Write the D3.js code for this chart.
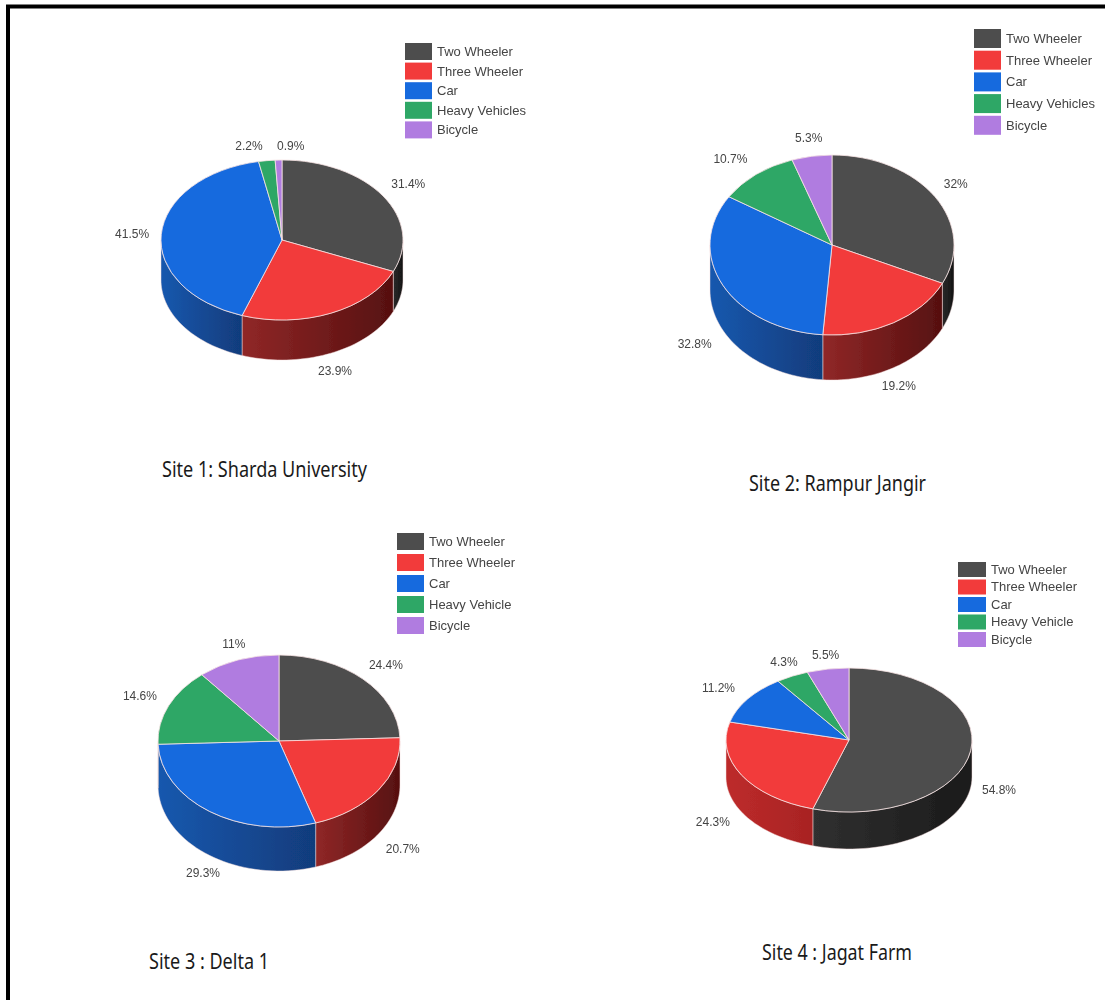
<!DOCTYPE html>
<html>
<head>
<meta charset="utf-8">
<script src="https://cdnjs.cloudflare.com/ajax/libs/d3/7.8.5/d3.min.js"></script>
<style>
  html, body { margin: 0; padding: 0; background: #fff; }
  svg { display: block; }
  .pct { font-family: "Liberation Sans", Arial, sans-serif; font-size: 12px; fill: #444; text-anchor: middle; dominant-baseline: middle; }
  .leg { font-family: "Liberation Sans", Arial, sans-serif; font-size: 13px; fill: #444; dominant-baseline: middle; }
  .site { font-family: "Noto Sans", sans-serif; font-size: 22px; fill: #1a1a1a; }
</style>
</head>
<body>
<svg id="chart" width="1105" height="1000"></svg>
<script>
// vehicle composition, percent
const categories = ['Two Wheeler', 'Three Wheeler', 'Car', 'Heavy Vehicles', 'Bicycle'];
const categoriesSite3 = ['Two Wheeler', 'Three Wheeler', 'Car', 'Heavy Vehicle', 'Bicycle'];
const site1Values = [31.4, 23.9, 41.5, 2.2, 0.9];
const site2Values = [32, 19.2, 32.8, 10.7, 5.3];
const site3Values = [24.4, 20.7, 29.3, 14.6, 11];
const site4Values = [54.8, 24.3, 11.2, 4.3, 5.5];
const siteTitles = ['Site 1: Sharda University', 'Site 2: Rampur Jangir', 'Site 3 : Delta 1', 'Site 4 : Jagat Farm'];

const topColors = ['#4d4d4d', '#f23a3a', '#186ade', '#2fa766', '#b07ce0'];
const wallColors = [['#2a2a2a', '#141414'], ['#902727', '#561010'], ['#1758ae', '#113c7c'], ['#1f7044', '#155030'], ['#7a50a0', '#5c3a7c']];
const wallColorsFlat = [['#303030', '#1a1a1a'], ['#bd2b2b', '#a82323'], ['#1758ae', '#113c7c'], ['#1f7044', '#155030'], ['#7a50a0', '#5c3a7c']];

// placement of each pie, nudge = small label shift off the computed ring position
const layouts = [
  { values: site1Values, labels: categories, cx: 282, cy: 240, rx: 121, ry: 80, depth: 40, walls: wallColors, blur: 'soft',
    legX: 405, legY: 43, legW: 27, legH: 17, legStep: 19.6,
    titleX: 162, titleY: 477, titleW: 205,
    nudge: [[0, 0], [-8, 0], [1, 2], [-14, 6], [13, 7]] },
  { values: site2Values, labels: categories, cx: 832, cy: 245, rx: 122, ry: 90, depth: 45, walls: wallColors, blur: 'soft',
    legX: 974, legY: 29, legW: 27, legH: 19, legStep: 21.7,
    titleX: 749, titleY: 491, titleW: 177,
    nudge: [[-5, 0], [-10, 0], [-1, 4], [-7, 3], [2, 5]] },
  { values: site3Values, labels: categoriesSite3, cx: 279, cy: 741, rx: 121, ry: 86, depth: 44, walls: wallColors, blur: 'soft',
    legX: 397, legY: 533, legW: 27, legH: 17, legStep: 21,
    titleX: 149, titleY: 969, titleW: 120,
    nudge: [[2, 2], [0, 3], [11, 1], [-1, 0], [6, 5]] },
  { values: site4Values, labels: categoriesSite3, cx: 849, cy: 740, rx: 123, ry: 72, depth: 37, walls: wallColorsFlat, blur: 'softer',
    legX: 958, legY: 562, legW: 28, legH: 15, legStep: 17.5,
    titleX: 762, titleY: 960, titleW: 150,
    nudge: [[-2, 0], [-2, 2], [-4, 0], [6, 3], [3, 4]] }
];

const svg = d3.select('#chart');
const defs = svg.append('defs');
// the source picture is a soft scan, site 4 more so
defs.append('filter').attr('id', 'soft').append('feGaussianBlur').attr('stdDeviation', 0.4);
defs.append('filter').attr('id', 'softer').append('feGaussianBlur').attr('stdDeviation', 0.6);

// page frame
svg.append('path')
  .attr('d', 'M8,1000 V6.5 H1105')
  .attr('fill', 'none')
  .attr('stroke', '#000')
  .attr('stroke-width', 4);

const pie = d3.pie().sort(null).value(d => d);
const halfPi = Math.PI / 2;

layouts.forEach(function(site, si) {
  const g = svg.append('g').attr('class', 'site-' + (si + 1));
  const arcs = pie(site.values);
  const px = a => site.cx + site.rx * Math.sin(a);
  const py = a => site.cy - site.ry * Math.cos(a);

  // side walls: only the part of a slice facing the viewer (90deg..270deg)
  const pies = g.append('g').attr('filter', 'url(#' + site.blur + ')');
  arcs.forEach(function(d, i) {
    const a0 = Math.max(d.startAngle, halfPi);
    const a1 = Math.min(d.endAngle, 3 * halfPi);
    if (a1 <= a0) return;
    const angles = d3.range(0, 41).map(k => a0 + (a1 - a0) * k / 40);
    const front = angles.map(a => [px(a), py(a)]);
    const back = angles.slice().reverse().map(a => [px(a), py(a) + site.depth]);
    const gid = 'wall-' + si + '-' + i;
    const xs = front.map(p => p[0]);
    const grad = defs.append('linearGradient').attr('id', gid)
      .attr('gradientUnits', 'userSpaceOnUse')
      .attr('x1', d3.min(xs)).attr('x2', d3.max(xs)).attr('y1', 0).attr('y2', 0);
    grad.append('stop').attr('offset', 0).attr('stop-color', site.walls[i][0]);
    grad.append('stop').attr('offset', 1).attr('stop-color', site.walls[i][1]);
    pies.append('path')
      .attr('d', d3.line()(front.concat(back)) + 'Z')
      .attr('fill', 'url(#' + gid + ')')
      .attr('stroke', '#f4dede')
      .attr('stroke-opacity', 0.6)
      .attr('stroke-width', 0.8);
  });

  // top face: circular arcs squashed to an ellipse
  const arc = d3.arc().innerRadius(0).outerRadius(site.rx);
  pies.append('g')
    .attr('transform', `translate(${site.cx},${site.cy}) scale(1,${site.ry / site.rx})`)
    .selectAll('path')
    .data(arcs)
    .enter().append('path')
    .attr('d', arc)
    .attr('fill', (d, i) => topColors[i])
    .attr('stroke', '#f6e4e4')
    .attr('stroke-opacity', 0.8)
    .attr('stroke-width', 1)
    .attr('vector-effect', 'non-scaling-stroke');

  // percent labels on a ring outside the pie
  const texts = g.append('g').attr('filter', 'url(#' + site.blur + ')');
  texts.selectAll('.pct')
    .data(arcs)
    .enter().append('text')
    .attr('class', 'pct')
    .attr('x', (d, i) => site.cx + 1.25 * site.rx * Math.sin((d.startAngle + d.endAngle) / 2) + site.nudge[i][0])
    .attr('y', function(d, i) {
      const mid = (d.startAngle + d.endAngle) / 2;
      const c = Math.cos(mid);
      return site.cy - 1.25 * site.ry * c + (c < 0 ? site.depth : 0) + site.nudge[i][1];
    })
    .text(d => d.value + '%');

  // legend
  const leg = texts.selectAll('.legrow')
    .data(site.labels)
    .enter().append('g')
    .attr('class', 'legrow')
    .attr('transform', (d, i) => `translate(${site.legX},${site.legY + i * site.legStep})`);
  leg.append('rect')
    .attr('width', site.legW)
    .attr('height', site.legH)
    .attr('fill', (d, i) => topColors[i]);
  leg.append('text')
    .attr('class', 'leg')
    .attr('x', site.legW + 5)
    .attr('y', site.legH / 2 + 1)
    .text(d => d);

  g.append('text')
    .attr('class', 'site')
    .attr('x', site.titleX)
    .attr('y', site.titleY)
    .attr('textLength', site.titleW)
    .attr('lengthAdjust', 'spacingAndGlyphs')
    .text(siteTitles[si]);
});
</script>
</body>
</html>
